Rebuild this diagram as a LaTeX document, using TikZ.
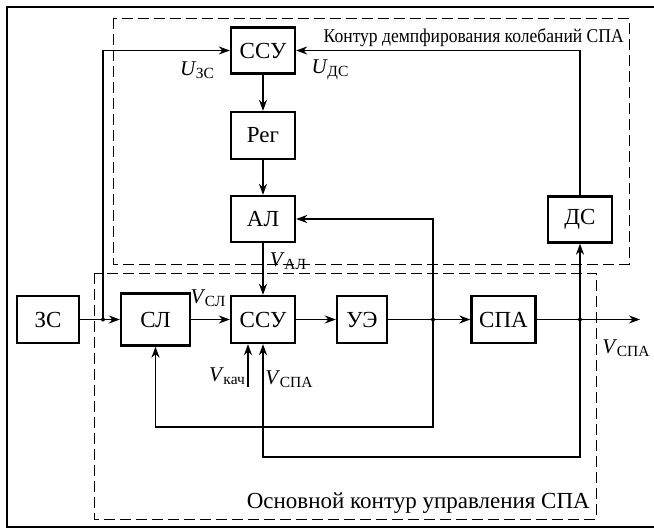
\documentclass[tikz,border=0pt]{standalone}
\usepackage{fontspec}
\setmainfont{Liberation Serif}
\newfontfamily\condfont[FakeStretch=0.9]{Liberation Serif}
\usetikzlibrary{arrows.meta}
\newcommand{\sig}[2]{\textit{#1}\kern-0.5pt\raisebox{-0.35ex}{\fontsize{15.5}{15.5}\selectfont #2}}
\begin{document}
\begin{tikzpicture}[x=1pt,y=-1pt,
  blk/.style={draw, line width=2.3pt, inner sep=0pt, font=\fontsize{23}{23}\selectfont, minimum width=64pt, minimum height=46pt},
  arr/.style={line width=1.9pt, -{Stealth[length=11pt,width=8pt,inset=3.5pt]}},
  ln/.style={line width=1.9pt},
  lbl/.style={font=\fontsize{21}{21}\selectfont, inner sep=0pt},
  dot/.style={circle, fill, inner sep=0pt, minimum size=4pt},
  cont/.style={draw, line width=0.9pt, dash pattern=on 11pt off 5pt}]
\useasboundingbox (0,0) rectangle (654,530);
\draw[line width=2.2pt] (658,7) -- (7,7) -- (7,527) -- (658,527);
\draw[cont] (113,18) rectangle (629,264);
\draw[cont] (94,273) rectangle (596,519);

\node[blk] (ssuA) at (263,50.5) {ССУ};
\node[blk, minimum height=47pt] (reg) at (263,135.5) {Рег};
\node[blk] (al) at (263,219) {АЛ};
\node[blk] (ds) at (580,219.5) {ДС};
\node[blk, minimum width=62pt, minimum height=47pt] (zs) at (48,319.5) {ЗС};
\node[blk, minimum width=69pt, minimum height=52pt] (sl) at (155.5,319.5) {СЛ};
\node[blk, minimum height=47pt] (ssuB) at (263,319.5) {ССУ};
\node[blk, minimum width=50pt, minimum height=47pt] (ue) at (362,319.5) {УЭ};
\node[blk, minimum height=47pt] (spa) at (503.5,319.5) {СПА};

\coordinate (j1) at (103,319.5);
\coordinate (j2) at (433,319.5);
\coordinate (j3) at (580,319.5);
\coordinate (out) at (640,319.5);
\coordinate (vk) at (248,387);
\coordinate (b1) at (433,427);
\coordinate (b2) at (580,457);

\draw[ln] (zs.east) -- (j1);
\draw[arr] (j1) -- (sl.west);
\draw[arr] (j1) |- (ssuA.west);
\draw[arr] (ds.north) |- (ssuA.east);
\draw[arr] (ssuA.south) -- (reg.north);
\draw[arr] (reg.south) -- (al.north);
\draw[arr] (al.south) -- (ssuB.north);
\draw[arr] (sl.east) -- (ssuB.west);
\draw[arr] (ssuB.east) -- (ue.west);
\draw[ln] (ue.east) -- (j2);
\draw[arr] (j2) -- (spa.west);
\draw[ln] (spa.east) -- (j3);
\draw[arr] (j3) -- (out);
\draw[arr] (j2) |- (al.east);
\draw[arr] (j2) -- (b1) -| (sl.south);
\draw[arr] (j3) -- (ds.south);
\draw[arr] (j3) -- (b2) -| (ssuB.south);
\draw[arr] (vk) -- (vk |- ssuB.south);
\node[dot] (d1) at (j1) {};
\node[dot] (d2) at (j2) {};
\node[dot] (d3) at (j3) {};

\node[lbl] (uzs) at (197,70) {\sig{U}{ЗС}};
\node[lbl] (uds) at (330,70) {\sig{U}{ДС}};
\node[lbl] (val) at (288,261) {\sig{V}{АЛ}};
\node[lbl] (vsl) at (208,298) {\sig{V}{СЛ}};
\node[lbl] (vkach) at (227,376) {\sig{V}{кач}};
\node[lbl] (vspa1) at (289,379) {\sig{V}{СПА}};
\node[lbl] (vspa2) at (626,348) {\sig{V}{СПА}};

\node[anchor=base east, inner sep=0pt, font=\condfont\fontsize{19.5}{19.5}\selectfont] (t1) at (624,42) {Контур демпфирования колебаний СПА};
\node[anchor=base east, inner sep=0pt, font=\fontsize{23}{23}\selectfont] (t2) at (590,508) {Основной контур управления СПА};
\end{tikzpicture}
\end{document}
